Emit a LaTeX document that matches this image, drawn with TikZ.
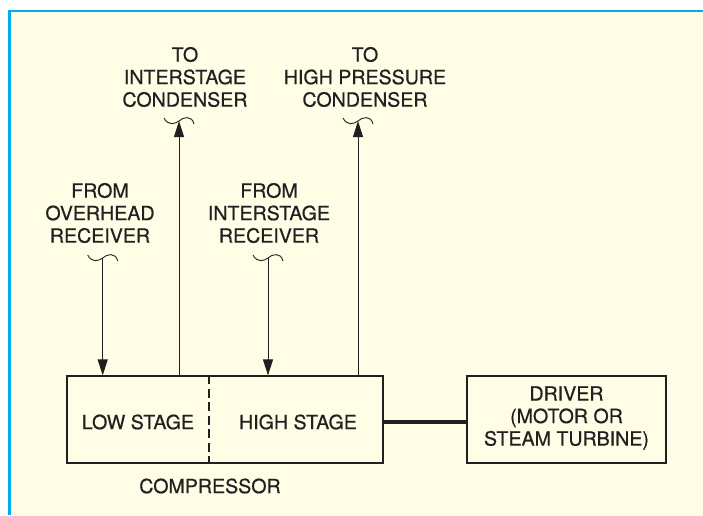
\documentclass[tikz,border=0pt]{standalone}
\usepackage{fontspec}
\setmainfont{TeX Gyre Heros}[FakeBold=0.6]
\usetikzlibrary{arrows.meta}
\definecolor{bgyel}{RGB}{255,253,230}
\definecolor{frameblue}{RGB}{0,174,239}
\definecolor{ink}{RGB}{35,31,32}
\tikzset{
  lbl/.style={align=center, inner sep=0pt, text=ink, font=\fontsize{19.6}{22.5}\selectfont},
  boxnode/.style={draw=ink, line width=1.2pt, inner sep=0pt},
  flow/.style={draw=ink, line width=1pt, -{Triangle[length=16pt,width=10pt]}},
  tilde/.style={draw=ink, line width=0.9pt},
}
\begin{document}
\begin{tikzpicture}[x=1pt,y=-1pt]
\useasboundingbox (0,0) rectangle (703,515);
\fill[bgyel] (9.5,11) rectangle (703,515);
\draw[frameblue, line width=2.6pt] (9.5,515) -- (9.5,11) -- (703,11);

% boxes
\node[boxnode, minimum width=316pt, minimum height=87pt] (comp) at (225,419.5) {};
\node[boxnode, minimum width=199pt, minimum height=87pt] (drv) at (566.5,419.5) {};
\node[lbl] (drvtxt) at (566.5,418) {DRIVER\\(MOTOR OR\\STEAM TURBINE)};
\node[lbl] (low) at (138,422) {LOW STAGE};
\node[lbl] (high) at (298,422) {HIGH STAGE};
\node[lbl] (comptxt) at (210,486) {COMPRESSOR};

% divider
\coordinate (dv) at (209,0);
\draw[ink, line width=1.2pt, dash pattern=on 9pt off 4.5pt] (comp.north -| dv) -- (comp.south -| dv);

% shaft
\draw[ink, line width=4pt] ([yshift=-2.2pt]comp.east) -- ([yshift=-2.2pt]drv.west);

% labels
\node[lbl] (tointer) at (185,77) {TO\\INTERSTAGE\\CONDENSER};
\node[lbl] (tohigh) at (365,77) {TO\\HIGH PRESSURE\\CONDENSER};
\node[lbl] (fromover) at (100,213) {FROM\\OVERHEAD\\RECEIVER};
\node[lbl] (frominter) at (269,213) {FROM\\INTERSTAGE\\RECEIVER};

% tilde break marks
\coordinate (t1) at (102.7,258);
\coordinate (t2) at (268,258);
\coordinate (u1) at (179,121);
\coordinate (u2) at (358,121);
\foreach \c in {t1,t2,u1,u2}{
  \draw[tilde] ([shift={(-15,-3)}]\c) .. controls ([shift={(-11,5)}]\c) and ([shift={(-4,3)}]\c) .. (\c)
     .. controls ([shift={(4,-4)}]\c) and ([shift={(13,-6)}]\c) .. ([shift={(15,3)}]\c);
}

% flows
\draw[flow] (t1) -- (t1 |- comp.north);
\draw[flow] (t2) -- (t2 |- comp.north);
\draw[flow] (u1 |- comp.north) -- (u1);
\draw[flow] (u2 |- comp.north) -- (u2);
\end{tikzpicture}
\end{document}
